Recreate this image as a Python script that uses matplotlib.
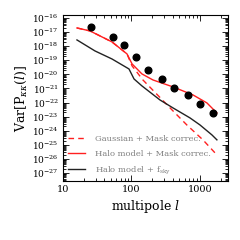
import matplotlib
matplotlib.use("Agg")
import matplotlib.pyplot as plt
import numpy as np

plt.rcParams['font.family'] = ['DejaVu Serif']
plt.rcParams['mathtext.fontset'] = 'dejavuserif'

# Data points (simulation variance)
l_pts = [25.6, 53.7, 77.8, 116, 174, 279, 417, 668, 1000, 1550]
var_pts = [10**-16.64, 10**-17.35, 10**-17.91, 10**-18.77, 10**-19.69,
           10**-20.33, 10**-20.96, 10**-21.46, 10**-22.10, 10**-22.74]

# Halo model + Mask correc.
l_halo_mask = [16, 24.8, 51.9, 86, 102, 142, 206, 403, 790, 1265, 1770]
var_halo_mask = [10**-16.71, 10**-16.92, 10**-17.70, 10**-18.55, 10**-19.26,
                 10**-19.97, 10**-20.40, 10**-20.89, 10**-21.46, 10**-22.03, 10**-22.74]

# Gaussian + Mask correc.
l_gauss_mask = [16, 24.8, 51.9, 86, 102, 147, 250, 390, 646, 1106, 1770]
var_gauss_mask = [10**-16.71, 10**-16.92, 10**-17.70, 10**-18.55, 10**-19.40,
                  10**-20.40, 10**-21.55, 10**-22.52, 10**-23.60, 10**-24.65, 10**-25.72]

# Halo model + f_sky
l_halo_fsky = [16, 29.3, 51.9, 92, 109, 142, 261, 403, 714, 1000, 1497, 1770]
var_halo_fsky = [10**-17.56, 10**-18.34, 10**-18.91, 10**-19.62, 10**-20.33,
                 10**-20.82, 10**-21.82, 10**-22.38, 10**-23.09, 10**-23.59,
                 10**-24.30, 10**-24.65]

x_ticks = [10, 100, 1000]
x_ticklabels = ['10', '100', '1000']
y_exponents = list(range(-27, -15))

fig = plt.figure(figsize=(2.4, 2.4), dpi=100)
ax = fig.add_axes([63/240, 1-181/240, (228-63)/240, (181-15)/240])

ax.plot(l_gauss_mask, var_gauss_mask, color='#ff2020', ls=(0, (4, 3)), lw=1.0,
        label='Gaussian + Mask correc.')
ax.plot(l_halo_mask, var_halo_mask, color='#ff2020', lw=1.0,
        label='Halo model + Mask correc.')
ax.plot(l_halo_fsky, var_halo_fsky, color='#222222', lw=1.0,
        label=r'Halo model + f$_{\mathrm{sky}}$')
ax.plot(l_pts, var_pts, 'o', color='black', ms=4.8)

ax.set_xscale('log')
ax.set_yscale('log')
ax.set_xlim(10, 2570)
ax.set_ylim(10**-27.57, 10**-15.79)

ax.set_xticks(x_ticks)
ax.set_xticklabels(x_ticklabels)
ax.set_yticks([10.0**e for e in y_exponents])
ax.set_yticklabels([r'$10^{%d}$' % e for e in y_exponents])
ax.yaxis.set_minor_locator(matplotlib.ticker.LogLocator(base=10, subs=np.arange(2, 10), numticks=20))
ax.yaxis.set_minor_formatter(matplotlib.ticker.NullFormatter())

ax.tick_params(which='both', direction='in', top=True, right=True, width=0.6)
ax.tick_params(axis='y', labelsize=6.5, pad=3)
ax.tick_params(axis='x', labelsize=7, pad=3)
ax.tick_params(which='major', length=4)
ax.tick_params(which='minor', length=2)
for s in ax.spines.values():
    s.set_linewidth(0.8)

ax.set_xlabel(r'multipole $l$', fontsize=9, labelpad=3)
ax.set_ylabel(r'Var$[\mathrm{P}_{\kappa\kappa}(l)]$', fontsize=9, labelpad=2)

leg = ax.legend(loc='lower left', frameon=False, fontsize=6, handlelength=2.0,
                handletextpad=1.2, labelspacing=0.8, labelcolor='#808080',
                borderaxespad=0.3, borderpad=0.3)

fig.savefig('out.png', dpi=100)
